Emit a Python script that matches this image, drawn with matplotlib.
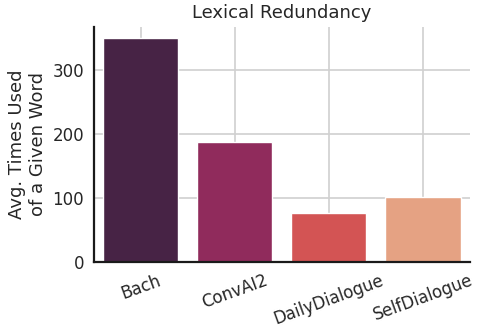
import matplotlib
matplotlib.use("Agg")
import matplotlib.pyplot as plt
import seaborn as sns

categories = ["Bach", "ConvAI2", "DailyDialogue", "SelfDialogue"]
values = [350, 187, 76, 101]

sns.set_style("whitegrid")
plt.rcParams['font.family'] = ['DejaVu Sans']

fig, ax = plt.subplots(figsize=(4.81, 3.35), dpi=100)
sns.barplot(x=categories, y=values, hue=categories, palette="rocket", legend=False,
            ax=ax, edgecolor="white", linewidth=1)
ax.set_title("Lexical Redundancy", fontsize=13, color="#262626")
ax.set_ylabel("Avg. Times Used\nof a Given Word", fontsize=13, color="#262626")
ax.set_xlabel("")
ax.set_yticks([0, 100, 200, 300])
ax.tick_params(axis="both", labelsize=12, colors="#262626")
plt.setp(ax.get_xticklabels(), rotation=20)
for s in ["top", "right"]:
    ax.spines[s].set_visible(False)
for s in ["left", "bottom"]:
    ax.spines[s].set_color("#1a1a1a")
    ax.spines[s].set_linewidth(1.6)
ax.grid(True, color="#d0d0d0", linewidth=1.2)
ax.set_axisbelow(True)
ax.set_xlim(-0.5, 3.5)
fig.subplots_adjust(left=0.195, right=0.977, top=0.92, bottom=0.218)
fig.savefig("out.png", dpi=100)
